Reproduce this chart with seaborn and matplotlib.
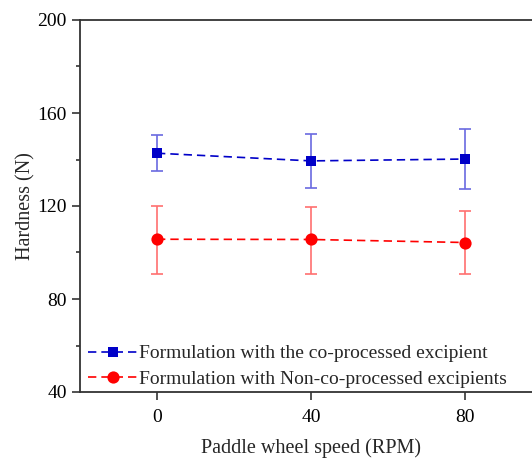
import numpy as np
import pandas as pd
import seaborn as sns
import matplotlib.pyplot as plt
from matplotlib.ticker import MultipleLocator

# data
speed = [0, 40, 80]
co_mean = [142.7, 139.4, 140.2]
co_err_lo = [7.8, 11.7, 13.0]
co_err_hi = [7.7, 11.4, 13.1]
non_mean = [105.7, 105.6, 104.3]
non_err_lo = [14.8, 14.7, 13.4]
non_err_hi = [14.4, 14.1, 13.4]

lab_co = "Formulation with the co-processed excipient"
lab_non = "Formulation with Non-co-processed excipients"

df = pd.DataFrame({
    "speed": speed * 2,
    "hardness": co_mean + non_mean,
    "group": [lab_co] * 3 + [lab_non] * 3,
})

sns.set_style("ticks")
plt.rcParams["font.family"] = ["Liberation Serif", "DejaVu Serif"]

fig = plt.figure(figsize=(5.32, 4.58), dpi=100)
ax = fig.add_axes([80 / 532, 1 - 392 / 458, 462 / 532, 372 / 458])

colors = {lab_co: "#0000c8", lab_non: "#ff0000"}
err_colors = {lab_co: "#6a6ae0", lab_non: "#ff7070"}

# error bars first so markers sit on top
ax.errorbar(speed, co_mean, yerr=[co_err_lo, co_err_hi], fmt="none",
            ecolor=err_colors[lab_co], elinewidth=1.2, capsize=4, capthick=1.2, zorder=2)
ax.errorbar(speed, non_mean, yerr=[non_err_lo, non_err_hi], fmt="none",
            ecolor=err_colors[lab_non], elinewidth=1.2, capsize=4, capthick=1.2, zorder=2)

sns.lineplot(data=df, x="speed", y="hardness", hue="group", style="group",
             palette=colors, markers=["s", "o"], dashes=[(5, 3), (5, 3)],
             markersize=7.5, markeredgewidth=0, linewidth=1.2, ax=ax, zorder=3)
# circles look a bit bigger than the squares
for ln in ax.lines:
    if ln.get_marker() == "o":
        ln.set_markersize(8.8)

ax.set_xlim(-20, 100)
ax.set_ylim(40, 200)
ax.set_xticks(speed)
ax.yaxis.set_major_locator(MultipleLocator(40))
ax.yaxis.set_minor_locator(MultipleLocator(20))
ax.tick_params(axis="both", which="major", length=6, width=1.2, colors="#333333",
               labelcolor="black", labelsize=14)
ax.tick_params(axis="y", which="minor", length=3, width=1.2, colors="#333333")
ax.tick_params(axis="x", which="major", pad=6)

for s in ["left", "bottom", "top", "right"]:
    ax.spines[s].set_visible(True)
    ax.spines[s].set_linewidth(1.3)
    ax.spines[s].set_color("#333333")

ax.set_xlabel("Paddle wheel speed (RPM)", fontsize=14.5, labelpad=9)
ax.set_ylabel("Hardness (N)", fontsize=14.5, labelpad=1)

handles, labels = ax.get_legend_handles_labels()
ax.legend(handles, labels, loc="lower left", bbox_to_anchor=(-0.004, -0.016),
          frameon=False, fontsize=14, handlelength=2.6, handletextpad=0.05,
          labelspacing=0.42, borderaxespad=0.1)

fig.savefig("out.png", dpi=100)
